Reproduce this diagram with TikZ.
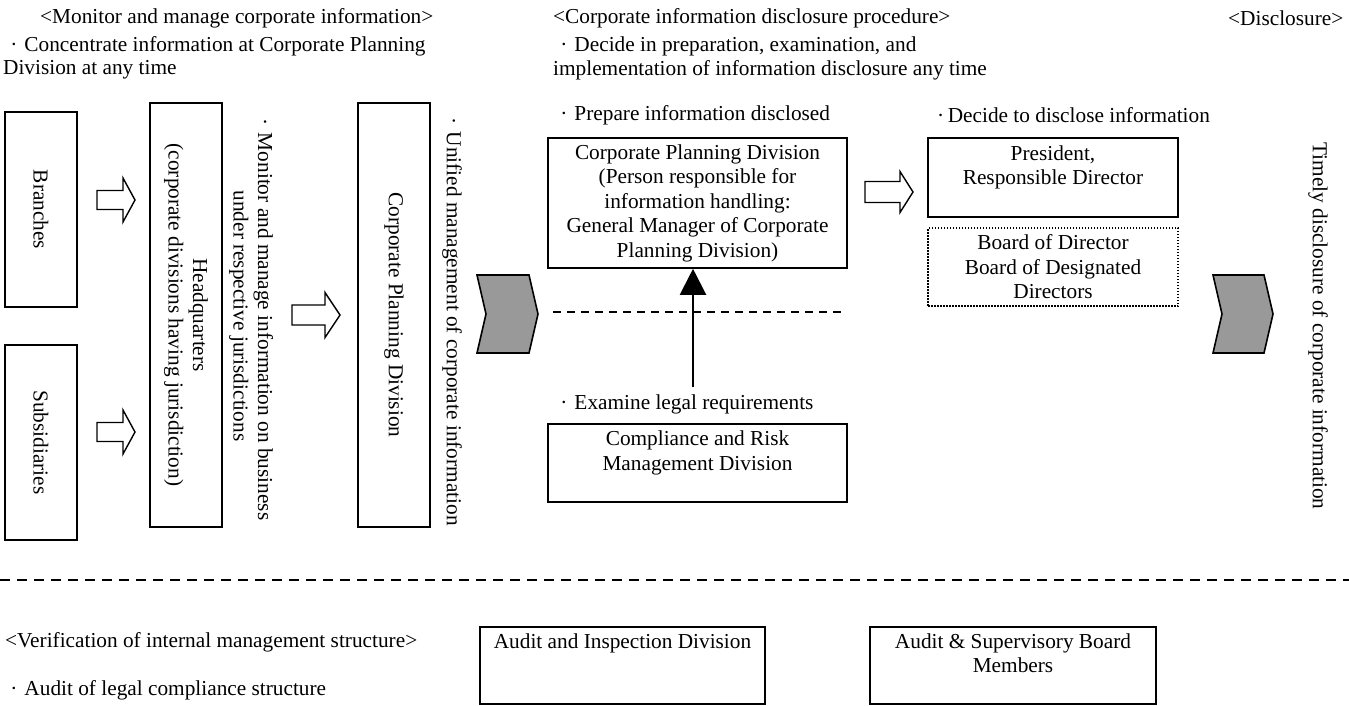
\documentclass[tikz,border=0pt]{standalone}
\usepackage{fontspec}
\setmainfont{Liberation Serif}
\usetikzlibrary{%
    arrows.meta,
    positioning
}
\newcommand{\dotmark}{\makebox[1em][c]{\textperiodcentered}}
\tikzset{headarrow/.style = {-{Triangle[width=26pt,length=26pt]}, line width=2.2pt}}
\tikzset{
    box/.style = {draw, line width=1.6pt, align=center, inner sep=0pt},
    dotbox/.style = {draw, line width=1.3pt, dash pattern=on 1.5pt off 1.5pt, align=center, inner sep=0pt},
    vbox/.style = {box, rotate=-90},
    note/.style = {anchor=west, inner sep=0pt},
    vnote/.style = {rotate=-90, align=center, inner sep=0pt},
    pics/openarrow/.style args = {#1/#2/#3/#4}{code = {
        \draw[line width=1.4pt, fill=white] (0,-#4) -- ({#1-#2},-#4) -- ({#1-#2},-#3)
            -- (#1,0) -- ({#1-#2},#3) -- ({#1-#2},#4) -- (0,#4) -- cycle;
    }},
    pics/chevron/.style args = {#1/#2}{code = {
        \draw[line width=1.6pt, fill=black!40] (0,-39) -- ({#1-#2},-39) -- (#1,0)
            -- ({#1-#2},39) -- (0,39) -- (#2,0) -- cycle;
    }}
}

\begin{document}
\begin{tikzpicture}[x=1pt, y=-1pt, font=\fontsize{21.3}{24.5}\selectfont]
    \useasboundingbox (0,0) rectangle (1349,705);

    % headings
    \node[note] (hmon) at (40,18) {\textless Monitor and manage corporate information\textgreater};
    \node[note] (hmon1) at (3,46) {\dotmark Concentrate information at Corporate Planning};
    \node[note] (hmon2) at (3,70) {Division at any time};
    \node[note] (hproc) at (553,18) {\textless Corporate information disclosure procedure\textgreater};
    \node[note] (hproc1) at (553,46) {\dotmark Decide in preparation, examination, and};
    \node[note] (hproc2) at (553,70) {implementation of information disclosure any time};
    \node[note] (hdisc) at (1228,18) {\textless Disclosure\textgreater};

    % monitoring
    \node[vbox, minimum width=195pt, minimum height=72pt] (branches) at (41,209.5) {Branches};
    \node[vbox, minimum width=195pt, minimum height=72pt] (subs) at (41,442.5) {Subsidiaries};
    \node[vbox, minimum width=424pt, minimum height=72pt] (hq) at (186,315)
        {Headquarters\\(corporate divisions having jurisdiction)};
    \node[vnote] (hqnote) at (251,316)
        {\dotmark Monitor and manage information on business\\under respective jurisdictions};
    \node[vbox, minimum width=424pt, minimum height=72pt] (cpdv) at (394,315) {Corporate Planning Division};
    \node[vnote] (unified) at (452,318) {\dotmark Unified management of corporate information};

    \pic at (97,200) {openarrow=38/12/22/9.5};
    \pic at (97,432) {openarrow=38/12/22/9.5};
    \pic at (292,315) {openarrow=48/15/22.5/10};
    \pic at (477,314) {chevron=61/9};

    % disclosure procedure
    \node[note] (prep) at (553,115) {\dotmark Prepare information disclosed};
    \node[box, minimum width=299pt, minimum height=130pt] (cpd) at (697.5,203)
        {Corporate Planning Division\\(Person responsible for\\information handling:\\General Manager of Corporate\\Planning Division)};
    \draw[line width=1.4pt, dash pattern=on 8pt off 6pt] (553,312) -- (842,312);
    \node[note] (exam) at (553,404) {\dotmark Examine legal requirements};
    \node[box, minimum width=299pt, minimum height=78pt] (crm) at (697.5,463)
        {Compliance and Risk\\Management Division\\\mbox{}};
    \coordinate (legal) at (693,387);
    \draw[headarrow] (legal) -- (legal |- cpd.south);

    \pic at (865,192) {openarrow=48/13/20.5/10.5};
    \node[note] (decide) at (937,115) {\textperiodcentered\,Decide to disclose information};
    \node[box, minimum width=250pt, minimum height=79pt] (pres) at (1053,177.5)
        {President,\\Responsible Director\\\mbox{}};
    \node[dotbox, minimum width=250pt, minimum height=78pt] (board) at (1053,267)
        {Board of Director\\Board of Designated\\Directors};

    % disclosure
    \pic at (1213,314) {chevron=60/9};
    \node[vnote] (timely) at (1318,326) {Timely disclosure of corporate information};

    % verification
    \draw[line width=1.4pt, dash pattern=on 10pt off 7pt] (0,580) -- (1349,580);
    \node[note] (verif) at (5,642) {\textless Verification of internal management structure\textgreater};
    \node[note] (legalaudit) at (3,690) {\dotmark Audit of legal compliance structure};
    \node[box, minimum width=285pt, minimum height=77pt] (audit) at (622.5,665.5)
        {Audit and Inspection Division\\\mbox{}\\\mbox{}};
    \node[box, minimum width=286pt, minimum height=77pt] (asb) at (1013,665.5)
        {Audit \& Supervisory Board\\Members\\\mbox{}};
\end{tikzpicture}
\end{document}
